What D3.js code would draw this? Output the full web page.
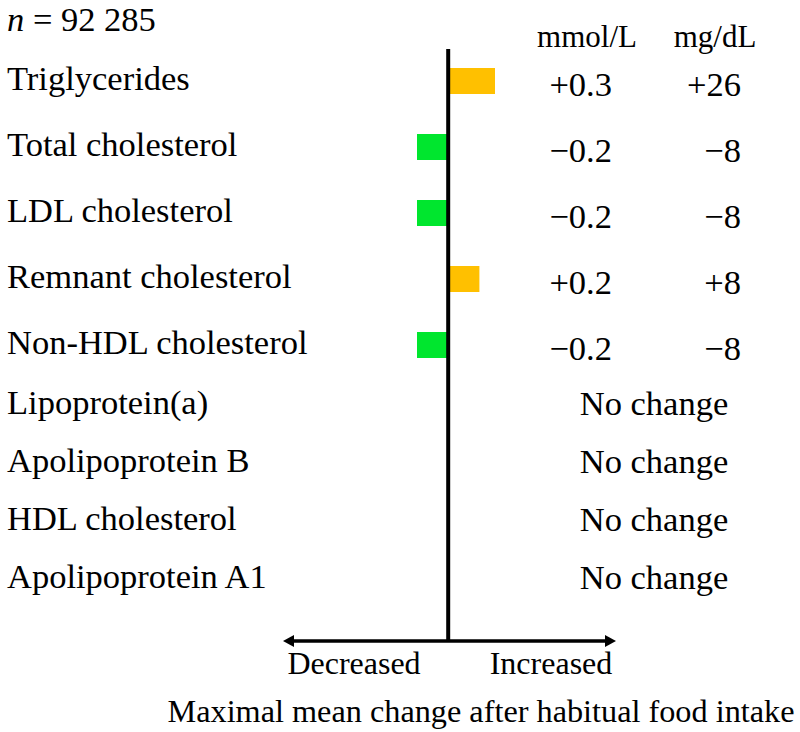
<!DOCTYPE html>
<html><head><meta charset="utf-8">
<script src="https://cdn.jsdelivr.net/npm/d3@7"></script>
<style>body{margin:0;background:#fff}svg{display:block}text{font-family:"Liberation Serif",serif;fill:#000}</style>
</head><body>
<svg id="c" width="800" height="732"></svg>
<script>
const changedCategories = ["Triglycerides","Total cholesterol","LDL cholesterol","Remnant cholesterol","Non-HDL cholesterol"];
const unchangedCategories = ["Lipoprotein(a)","Apolipoprotein B","HDL cholesterol","Apolipoprotein A1"];
const mmolChange = [0.3, -0.2, -0.2, 0.2, -0.2];
const mmolLabels = ["+0.3","\u22120.2","\u22120.2","+0.2","\u22120.2"];
const mgLabels = ["+26","\u22128","\u22128","+8","\u22128"];
const noChangeText = "No change";
const unitHeaders = ["mmol/L","mg/dL"];

const svg = d3.select("#c");
const yTop = d3.scalePoint().domain(changedCategories).range([81, 345]);
const yBot = d3.scalePoint().domain(unchangedCategories).range([405, 579]);
const x = d3.scaleLinear().domain([-0.2, 0.3]).range([417, 495]);
const x0 = x(0);
const changed = changedCategories.map((c,i)=>({c, y:yTop(c), v:mmolChange[i], m:mmolLabels[i], g:mgLabels[i]}));
const unchanged = unchangedCategories.map(c=>({c, y:yBot(c)}));
const all = changed.concat(unchanged);

// n
const nt = svg.append("text").attr("x",7).attr("y",31).attr("font-size",34.5);
nt.append("tspan").attr("font-style","italic").text("n");
nt.append("tspan").text(" = 92 285");

// headers
svg.append("text").attr("x",587).attr("y",47).attr("font-size",31).attr("text-anchor","middle").text(unitHeaders[0]);
svg.append("text").attr("x",715).attr("y",47).attr("font-size",31).attr("text-anchor","middle").text(unitHeaders[1]);

// labels
svg.selectAll(".lab").data(all).join("text").attr("class","lab")
  .attr("x",7).attr("y",d=>d.y+9).attr("font-size",34.5).text(d=>d.c);

// bars
const barH = 26;
svg.selectAll(".bar").data(changed).join("rect").attr("class","bar")
  .attr("x",d=>Math.min(x(d.v),x0)).attr("width",d=>Math.abs(x(d.v)-x0))
  .attr("y",d=>d.y-barH/2).attr("height",barH)
  .attr("fill",d=>d.v>0?"#FFC000":"#00E62E");

// values
svg.selectAll(".mm").data(changed).join("text").attr("class","mm")
  .attr("x",612).attr("y",d=>d.y+15).attr("font-size",34.5).attr("text-anchor","end").text(d=>d.m);
svg.selectAll(".mg").data(changed).join("text").attr("class","mg")
  .attr("x",741).attr("y",d=>d.y+15).attr("font-size",34.5).attr("text-anchor","end").text(d=>d.g);
svg.selectAll(".nc").data(unchanged).join("text").attr("class","nc")
  .attr("x",654).attr("y",d=>d.y+10).attr("font-size",34.5).attr("text-anchor","middle").text(noChangeText);

// vertical axis
svg.append("line").attr("x1",x0).attr("x2",x0).attr("y1",49).attr("y2",642).attr("stroke","#000").attr("stroke-width",4);

// horizontal double arrow
const ay = 641, axL = 283, axR = 616;
svg.append("line").attr("x1",axL+8).attr("x2",axR-8).attr("y1",ay).attr("y2",ay).attr("stroke","#000").attr("stroke-width",3.5);
svg.append("path").attr("d",`M${axL},${ay} L${axL+11},${ay-6} L${axL+11},${ay+6} Z`).attr("fill","#000");
svg.append("path").attr("d",`M${axR},${ay} L${axR-11},${ay-6} L${axR-11},${ay+6} Z`).attr("fill","#000");

svg.append("text").attr("x",354).attr("y",674).attr("font-size",32).attr("text-anchor","middle").text("Decreased");
svg.append("text").attr("x",551).attr("y",674).attr("font-size",32).attr("text-anchor","middle").text("Increased");
svg.append("text").attr("x",481).attr("y",722).attr("font-size",32).attr("text-anchor","middle").attr("textLength",627).attr("lengthAdjust","spacingAndGlyphs").text("Maximal mean change after habitual food intake");
</script>
</body></html>
